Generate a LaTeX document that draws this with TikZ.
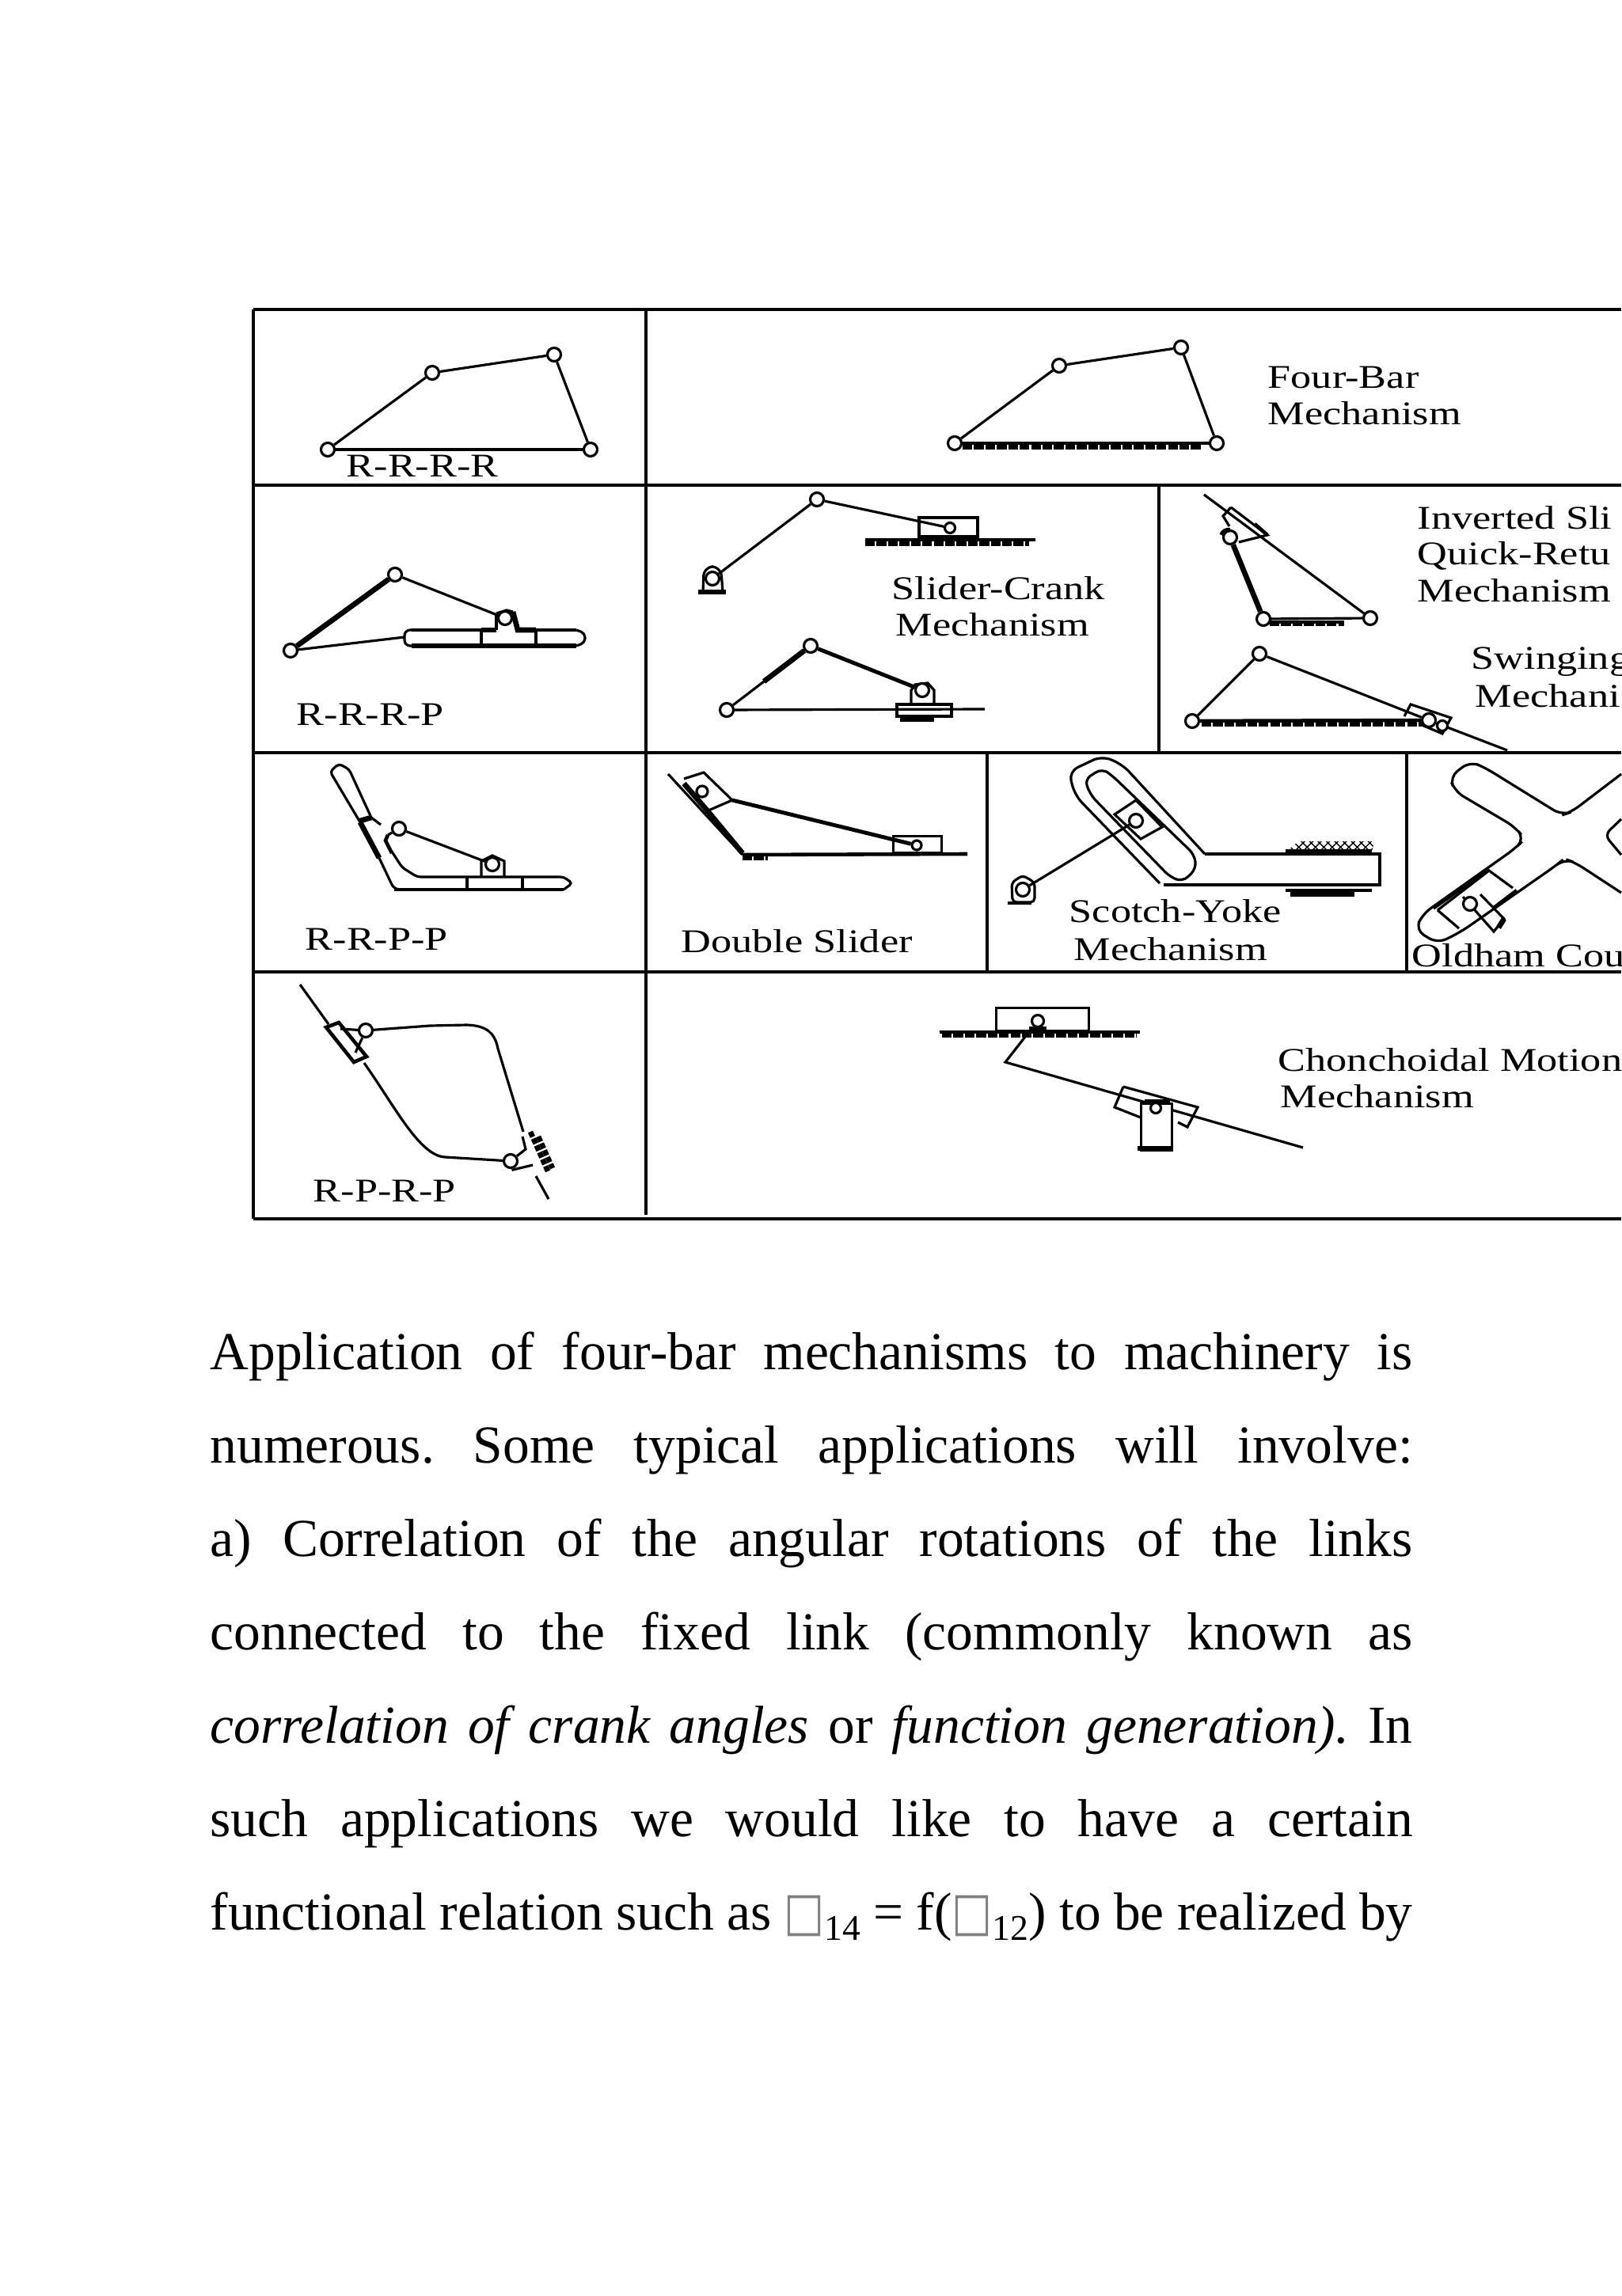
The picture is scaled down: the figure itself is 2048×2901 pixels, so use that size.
\documentclass[tikz,border=0pt]{standalone}
\usepackage{fontspec}
\setmainfont{Liberation Serif}
\newfontfamily\tablefont[FakeStretch=1.25]{Liberation Serif}
\newfontfamily\symfont{DejaVu Sans}
\usetikzlibrary{patterns}
\newcommand{\nochar}{\textcolor{gray}{\scalebox{0.8}[1]{\symfont □}}}
\newcommand{\lowsub}[1]{\raisebox{-0.2em}{\fontsize{13}{15}\selectfont #1}}
\frenchspacing
\begin{document}
\begin{tikzpicture}[x=0.01cm,y=-0.01cm]

  \tikzset{joint/.style = {shape=circle,draw,line width=0.9pt,fill=white,inner sep=0pt,minimum size=0.17cm}}
  \tikzset{link/.style = {line width=0.9pt}}
  \tikzset{heavy/.style = {line width=1.9pt}}
  \tikzset{ground/.style = {line width=1.3pt}}
  \tikzset{hatch/.style = {line width=1.7pt,dash pattern=on 3.5pt off 0.6pt}}
  \tikzset{gridline/.style = {line width=1.15pt}}
  \tikzset{cellname/.style = {anchor=base west,inner sep=0pt,font=\tablefont\fontsize{11.9}{14}\selectfont}}
  \tikzset{bodyline/.style = {anchor=base west,inner sep=0pt,font=\fontsize{19.2}{23}\selectfont}}
  \tikzset{block/.style = {shape=rectangle,draw,line width=0.9pt,fill=white,inner sep=0pt}}
  \useasboundingbox (0,0) rectangle (2048,2901);
  \fill[white] (0,0) rectangle (2048,2901);

  % table
  \draw[gridline] (320,391) -- (2048,391);
  \draw[gridline] (320,613) -- (2048,613);
  \draw[gridline] (320,951) -- (2048,951);
  \draw[gridline] (320,1228) -- (2048,1228);
  \draw[gridline] (320,1540) -- (2048,1540);
  \draw[gridline] (320,391) -- (320,1540);
  \draw[gridline] (816,391) -- (816,1535);
  \draw[gridline] (1464,613) -- (1464,951);
  \draw[gridline] (1247,951) -- (1247,1228);
  \draw[gridline] (1777,951) -- (1777,1228);

  % R-R-R-R
  \node[joint] (rrrra) at (414,568) {};
  \node[joint] (rrrrb) at (546,471) {};
  \node[joint] (rrrrc) at (700,448) {};
  \node[joint] (rrrrd) at (746,568) {};
  \draw[link] (rrrra) -- (rrrrb);
  \draw[link] (rrrrb) -- (rrrrc);
  \draw[link] (rrrrc) -- (rrrrd);
  \draw[link] (rrrrd) -- (rrrra);
  \node[cellname] (rrrrname) at (437,603) {R-R-R-R};

  % four-bar
  \node[joint] (fba) at (1206,560) {};
  \node[joint] (fbb) at (1338,462) {};
  \node[joint] (fbc) at (1492,439) {};
  \node[joint] (fbd) at (1537,560) {};
  \draw[link] (fba) -- (fbb);
  \draw[link] (fbb) -- (fbc);
  \draw[link] (fbc) -- (fbd);
  \draw[ground] (fba) -- (fbd);
  \draw[hatch] (1216,565) -- (1518,565);
  \node[cellname] (fbname) at (1601,491) {Four-Bar};
  \node[cellname] (fbmech) at (1601,537) {Mechanism};

  % R-R-R-P
  \node[joint] (rrrpa) at (367,822) {};
  \node[joint] (rrrpb) at (499,726) {};
  \node[joint] (rrrpc) at (638,781) {};
  \coordinate (rrrpd) at (511,805);
  \draw[heavy] (rrrpa) -- (rrrpb);
  \draw[link] (rrrpb) -- (rrrpc);
  \draw[link] (rrrpa) -- (rrrpd);
  \draw[link,rounded corners=2pt] (520,796) -- (511,796) -- (511,816) -- (520,816);
  \draw[link,rounded corners=1.5pt] (728,796) -- (739,800) -- (739,812) -- (728,816);
  \draw[link] (520,796) -- (627,796);
  \draw[link] (654,796) -- (728,796);
  \draw[heavy] (520,816) -- (728,816);
  \draw[link] (608,796) -- (608,816);
  \draw[link] (677,796) -- (677,816);
  \draw[link] (627,796) -- (627,775);
  \draw[heavy] (648,773) -- (654,796) -- (677,796);
  \draw[heavy] (608,796) -- (627,796);
  \draw[link] (627,775) -- (640,771) -- (648,773);
  \node[cellname] (rrrpname) at (374,917) {R-R-R-P};

  % slider-crank, upper
  \coordinate (scbasel) at (882,748);
  \coordinate (scbaser) at (917,748);
  \draw[heavy] (scbasel) -- (scbaser);
  \draw[link,rounded corners=1.5pt] (888,748) -- (889,722) -- (900,714) -- (911,722) -- (913,748);
  \node[joint] (sca) at (900,731) {};
  \node[joint] (scb) at (1032,631) {};
  \node[block,minimum width=0.74cm,minimum height=0.24cm] (scslider) at (1198,666) {};
  \node[joint,minimum size=0.13cm] (scc) at (1200,667) {};
  \draw[link] (sca) -- (scb);
  \draw[link] (scb) -- (scc);
  \draw[ground] (1093,682) -- (1308,682);
  \draw[hatch] (1093,687) -- (1300,687);
  \node[cellname] (scname) at (1126,758) {Slider-Crank};
  \node[cellname] (scmech) at (1131,804) {Mechanism};

  % slider-crank, lower
  \node[joint] (sda) at (918,897) {};
  \node[joint] (sdb) at (1024,816) {};
  \coordinate (sdend) at (1244,896);
  \coordinate (sdmid) at (965,861);
  \draw[link] (sda) -- (sdend);
  \draw[link] (1151,890) -- (1151,872) -- (1156,865) -- (1172,863) -- (1180,872) -- (1180,890);
  \draw[link] (1133,890) rectangle (1202,905);
  \draw[link] (1133,890) -- (1202,890);
  \draw[heavy] (1137,909) -- (1180,909);
  \node[joint] (sdc) at (1165,872) {};
  \draw[link] (sda) -- (sdb);
  \draw[heavy] (sdmid) -- (sdb);
  \draw[line width=1.4pt] (sdb) -- (sdc);

  % inverted slider
  \node[joint] (isa) at (1596,782) {};
  \node[joint] (isb) at (1731,781) {};
  \node[joint] (isc) at (1554,679) {};
  \coordinate (istop) at (1521,625);
  \draw[link] (1555,641) -- (1601,676) -- (1565,685);
  \draw[link] (1555,641) -- (1545,652) -- (1553,665);
  \draw[link] (istop) -- (isb);
  \draw[line width=1.3pt] (1585,662) -- (1601,676);
  \draw[heavy] (isc) -- (isa);
  \draw[link] (isa) -- (isb);
  \draw[ground] (1604,786) -- (1698,786);
  \draw[hatch] (1604,788) -- (1698,788);
  \draw[line width=1.6pt] (1543,676) arc[start angle=200,end angle=280,radius=10];
  \node[cellname] (isname) at (1790,669) {Inverted Sli};
  \node[cellname] (isquick) at (1790,714) {Quick-Retu};
  \node[cellname] (ismech) at (1790,761) {Mechanism};

  % swinging block
  \node[joint] (swa) at (1506,911) {};
  \node[joint] (swb) at (1591,826) {};
  \node[joint] (swc) at (1805,910) {};
  \coordinate (swend) at (1904,948);
  \draw[link] (1774,905) -- (1782,890) -- (1833,907) -- (1822,927) -- (1796,916);
  \draw[link] (swa) -- (swb);
  \draw[link] (swb) -- (swc);
  \draw[link] (swc) -- (swend);
  \draw[ground] (swa) -- (swc);
  \draw[hatch] (1518,915) -- (1796,915);
  \node[joint,minimum size=0.13cm] (swd) at (1822,917) {};
  \node[cellname] (swname) at (1858,846) {Swinging};
  \node[cellname] (swmech) at (1863,894) {Mechani};

  % R-R-P-P
  \draw[link,rounded corners=1.2pt] (469,1033) -- (441,972) -- (428,965) -- (417,975) -- (455,1039);
  \draw[heavy] (455,1039) -- (479,1084);
  \draw[heavy] (455,1037) -- (469,1033);
  \draw[link,rounded corners=2pt] (479,1084) -- (498,1124) -- (712,1124);
  \draw[line width=1.4pt] (498,1124) -- (712,1124);
  \draw[link,rounded corners=1.2pt] (712,1124) -- (723,1116) -- (712,1108) -- (527,1108) -- (508,1096) -- (495,1076);
  \draw[line width=1.3pt] (495,1078) -- (487,1062) -- (490,1055);
  \draw[link] (469,1033) -- (481,1042);
  \draw[link] (590,1108) -- (590,1124);
  \draw[link] (660,1108) -- (660,1124);
  \draw[link] (608,1108) -- (608,1088) -- (622,1081) -- (637,1088) -- (637,1108);
  \node[joint] (rrppa) at (504,1047) {};
  \node[joint] (rrppb) at (622,1092) {};
  \draw[link] (rrppa) -- (rrppb);
  \draw[link] (490,1055) -- (rrppa);
  \node[cellname] (rrppname) at (385,1200) {R-R-P-P};

  % double slider
  \coordinate (dsa) at (844,978);
  \coordinate (dsb) at (938,1080);
  \coordinate (dsc) at (1222,1079);
  \draw[link] (dsa) -- (dsb);
  \draw[ground] (dsb) -- (dsc);
  \draw[hatch] (938,1084) -- (970,1084);
  \draw[link] (864,984) -- (889,976) -- (925,1011) -- (895,1024);
  \draw[heavy] (864,990) -- (895,1026);
  \draw[heavy] (895,1026) -- (938,1078);
  \node[joint,minimum size=0.14cm] (dsd) at (887,1000) {};
  \node[block,minimum width=0.61cm,minimum height=0.21cm] (dsslider) at (1159,1067) {};
  \node[joint,minimum size=0.12cm] (dse) at (1158,1068) {};
  \draw[line width=1.4pt] (925,1011) -- (dse);
  \node[cellname] (dsname) at (860,1203) {Double Slider};

  % scotch-yoke
  \coordinate (sybasel) at (1273,1141);
  \coordinate (sybaser) at (1303,1141);
  \draw[link] (sybasel) -- (sybaser);
  \draw[link,rounded corners=1.5pt] (1279,1140) -- (1278,1115) -- (1292,1106) -- (1307,1115) -- (1307,1140) -- cycle;
  \node[joint] (sya) at (1292,1124) {};
  \draw[link,rounded corners=3.5pt] (1465,1116) -- (1358,1005) -- (1350,975) -- (1392,955) -- (1418,966) -- (1522,1079);
  \draw[link,rounded corners=2.5pt] (1405,980) -- (1392,971) -- (1370,985) -- (1378,1005) -- (1478,1108) -- (1494,1114) -- (1511,1098) -- (1509,1080) -- cycle;
  \draw[link] (1408,1029) -- (1435,1011) -- (1468,1045) -- (1441,1060) -- cycle;
  \node[joint] (syb) at (1435,1037) {};
  \draw[link] (sya) -- (syb);
  \draw[line width=1.2pt] (1522,1079) -- (1743,1079) -- (1743,1118) -- (1470,1118);
  \fill[pattern=crosshatch] (1624,1077) -- (1640,1063) -- (1736,1063) -- (1733,1077) -- cycle;
  \draw[ground] (1624,1075) -- (1733,1075);
  \draw[ground] (1624,1125) -- (1733,1125);
  \draw[heavy] (1630,1130) -- (1711,1130);
  \node[cellname] (syname) at (1350,1165) {Scotch-Yoke};
  \node[cellname] (symech) at (1356,1213) {Mechanism};

  % oldham coupling
  \draw[link,rounded corners=3.5pt] (2048,978) -- (1985,1026) -- (1973,1030) -- (1876,970) -- (1857,962) -- (1831,982) -- (1838,1000) -- (1914,1045) -- (1926,1060) -- (1914,1072) -- (1797,1155) -- (1788,1175) -- (1816,1192) -- (1846,1177) -- (1965,1094) -- (1976,1085) -- (1990,1090) -- (2048,1128);
  \draw[link,rounded corners=2.5pt] (2048,1035) -- (2027,1055) -- (2048,1080);
  \draw[link] (1811,1148) -- (1881,1099);
  \draw[link] (1816,1150) -- (1881,1100) -- (1911,1122);
  \draw[link] (1816,1150) -- (1843,1173);
  \draw[line width=1.3pt] (1887,1147) -- (1916,1125);
  \draw[link] (1848,1133) -- (1887,1177) -- (1900,1161) -- (1870,1130);
  \draw[heavy] (1893,1172) -- (1900,1161);
  \node[joint] (oca) at (1857,1142) {};
  \node[cellname] (ocname) at (1783,1221) {Oldham Cou};

  % R-P-R-P
  \node[joint] (rprpa) at (462,1302) {};
  \node[joint] (rprpb) at (645,1467) {};
  \coordinate (rprpc) at (379,1244);
  \coordinate (rprpd) at (693,1515);
  \draw[link] (rprpc) -- (415,1294);
  \draw[line width=1.3pt] (412,1298) -- (428,1292) -- (463,1335) -- (447,1342) -- cycle;
  \draw[link] (430,1300) -- (rprpa);
  \draw[link] (rprpa) -- (449,1330);
  \draw[link] (460,1343) .. controls (500,1400) and (530,1460) .. (562,1462) -- (rprpb);
  \draw[link] (rprpa) -- (543,1296) -- (590,1295) .. controls (615,1296) and (625,1305) .. (629,1325) -- (661,1430);
  \draw[heavy,dash pattern=on 2pt off 0.7pt] (670,1430) -- (693,1482);
  \draw[heavy,dash pattern=on 2pt off 0.7pt] (680,1436) -- (698,1476);
  \draw[link] (660,1436) -- (664,1452) -- (rprpb);
  \draw[link] (rprpb) -- (648,1478) -- (673,1472);
  \draw[link] (677,1486) -- (rprpd);
  \node[cellname] (rprpname) at (395,1518) {R-P-R-P};

  % chonchoidal motion
  \coordinate (cmgl) at (1187,1304);
  \coordinate (cmgr) at (1440,1304);
  \draw[ground] (cmgl) -- (cmgr);
  \draw[hatch] (1190,1308) -- (1436,1308);
  \node[block,minimum width=1.17cm,minimum height=0.29cm,line width=1pt] (cmbox) at (1317,1288) {};
  \node[joint,minimum size=0.15cm] (cma) at (1311,1290) {};
  \draw[heavy] (1300,1300) -- (1322,1300);
  \coordinate (cmb) at (1295,1310);
  \coordinate (cmc) at (1270,1342);
  \coordinate (cmd) at (1646,1450);
  \draw[link] (1419,1373) -- (1513,1399) -- (1500,1424) -- (1488,1418);
  \draw[link] (1419,1373) -- (1408,1399) -- (1441,1412);
  \draw[link] (cmb) -- (cmc) -- (cmd);
  \node[block,minimum width=0.39cm,minimum height=0.59cm,anchor=north] (cmpost) at (1461,1393) {};
  \draw[heavy] (1437,1451) -- (1481,1451);
  \draw[heavy] (1446,1392) -- (1478,1392);
  \node[joint,minimum size=0.13cm] (cme) at (1460,1400) {};
  \node[cellname] (cmname) at (1614,1353) {Chonchoidal Motion};
  \node[cellname] (cmmech) at (1617,1399) {Mechanism};

  % text
  \node[bodyline] (line1) at (265,1730) {\makebox[15.18cm][s]{Application of four-bar mechanisms to machinery is}};
  \node[bodyline] (line2) at (265,1848) {\makebox[15.18cm][s]{numerous. Some typical applications will involve:}};
  \node[bodyline] (line3) at (265,1966) {\makebox[15.18cm][s]{a) Correlation of the angular rotations of the links}};
  \node[bodyline] (line4) at (265,2084) {\makebox[15.18cm][s]{connected to the fixed link (commonly known as}};
  \node[bodyline] (line5) at (265,2202) {\makebox[15.18cm][s]{\textit{correlation of crank angles} or \textit{function generation).} In}};
  \node[bodyline] (line6) at (265,2320) {\makebox[15.18cm][s]{such applications we would like to have a certain}};
  \node[bodyline] (line7) at (265,2438) {\makebox[15.18cm][s]{functional relation such as \nochar\lowsub{14} = f(\nochar\lowsub{12}) to be realized by}};
\end{tikzpicture}
\end{document}
